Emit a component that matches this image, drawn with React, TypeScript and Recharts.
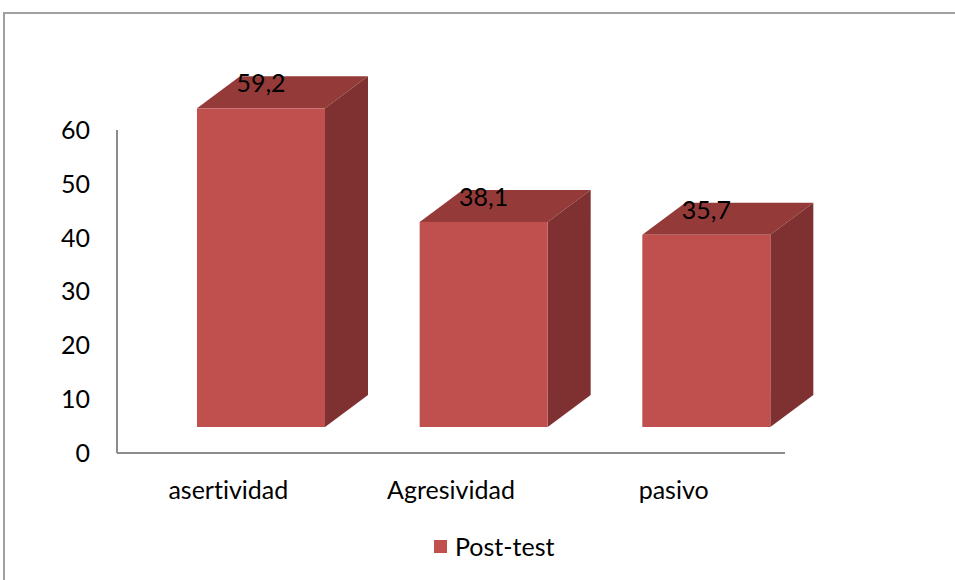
import { BarChart, Bar, XAxis, YAxis, Legend, LabelList } from 'recharts';

const categories = ['asertividad', 'Agresividad', 'pasivo'];
const postTest = [59.2, 38.1, 35.7];
const yTicks = [0, 10, 20, 30, 40, 50, 60];

const data = categories.map((c, i) => ({ name: c, value: postTest[i] }));

const FONT = 'Lato, "Open Sans", sans-serif';
const FS = 25;
const FRONT = '#C0504D';
const TOP = '#943B39';
const SIDE = '#7E3130';
const AXIS = '#8C8C8C';
const noLig = { fontVariantLigatures: 'none' as const };

// depth of the fake 3d box
const DX = 43;
const DY = 32;
const SHIFT_X = 33;
const SHIFT_Y = 26;

function Box3D(props: any) {
  const { x, y, width, height } = props;
  const fx = x + SHIFT_X;
  const fy = y - SHIFT_Y;
  const w = width;
  const h = height;
  return (
    <g>
      <polygon
        points={`${fx},${fy} ${fx + DX},${fy - DY} ${fx + w + DX},${fy - DY} ${fx + w},${fy}`}
        fill={TOP}
      />
      <polygon
        points={`${fx + w},${fy} ${fx + w + DX},${fy - DY} ${fx + w + DX},${fy + h - DY} ${fx + w},${fy + h}`}
        fill={SIDE}
      />
      <rect x={fx} y={fy} width={w} height={h} fill={FRONT} />
    </g>
  );
}

function TopLabel(props: any) {
  const { x, y, width, value } = props;
  return (
    <text
      x={x + SHIFT_X + width / 2}
      y={y - SHIFT_Y - 26}
      textAnchor="middle"
      dominantBaseline="central"
      fontFamily={FONT}
      fontSize={FS}
      fill="#000"
    >
      {String(value).replace('.', ',')}
    </text>
  );
}

function LegendBox() {
  return (
    <div style={{ height: 30, display: 'flex', alignItems: 'center', paddingLeft: 377, fontFamily: FONT, fontSize: FS, color: '#000' }}>
      <span style={{ width: 13, height: 13, background: FRONT, display: 'inline-block', marginRight: 8 }} />
      <span>Post-test</span>
    </div>
  );
}

export default function App() {
  return (
    <div style={{ position: 'absolute', left: 0, top: 0, width: 955, height: 580, overflow: 'hidden', background: '#fff' }}>
      <div style={{ position: 'absolute', left: 3, top: 12, width: 1000, height: 1000, border: '2px solid #A0A0A0', boxSizing: 'border-box' }} />
      <div style={{ position: 'absolute', left: 0, top: 0 }}>
        <BarChart width={955} height={580} data={data} margin={{ top: 130, right: 170, bottom: 19, left: 57 }}>
          <XAxis
            dataKey="name"
            height={78}
            tickLine={false}
            axisLine={{ stroke: AXIS, strokeWidth: 2 }}
            tick={{ fontFamily: FONT, fontSize: FS, fill: '#000', style: noLig }}
            tickMargin={22}
          />
          <YAxis
            width={60}
            domain={[0, 60]}
            ticks={yTicks}
            tickLine={false}
            axisLine={{ stroke: AXIS, strokeWidth: 2 }}
            tick={{ fontFamily: FONT, fontSize: FS, fill: '#000' }}
            tickMargin={21}
          />
          <Legend verticalAlign="bottom" content={() => <LegendBox />} />
          <Bar dataKey="value" name="Post-test" barSize={128} shape={<Box3D />} isAnimationActive={false}>
            <LabelList dataKey="value" content={<TopLabel />} />
          </Bar>
        </BarChart>
      </div>
    </div>
  );
}
